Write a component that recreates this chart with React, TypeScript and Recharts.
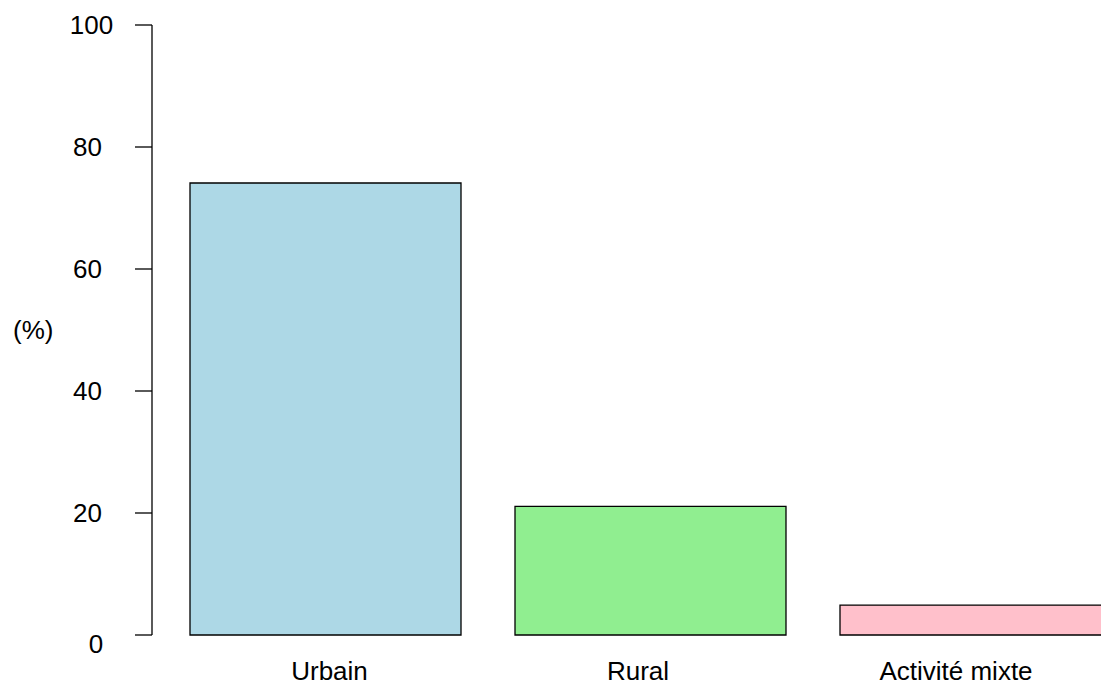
import { BarChart, Bar, XAxis, YAxis, Cell } from "recharts";

const categories = ["Urbain", "Rural", "Activité mixte"];
const percentages = [74.1, 21.1, 4.9];
const yTicks = [0, 20, 40, 60, 80, 100];

const barColors = ["#ADD8E6", "#90EE90", "#FFC0CB"];
// the reference's names sit a little off the bar centres
const labelShift = [4, -12.5, -19.5];

const data = categories.map((name, i) => ({ name, value: percentages[i] }));

const FONT = "'Liberation Sans', Arial, Helvetica, sans-serif";
const FS = 26;

function YTick(props: any) {
  const { x, y, payload } = props;
  // R centres these labels a bit unevenly
  let dx = -47.5;
  let dy = 0;
  if (payload.value === 100) dx = -43.5;
  if (payload.value === 0) {
    dx = -39;
    dy = 9;
  }
  return (
    <text
      x={x + dx}
      y={y + dy}
      textAnchor="middle"
      dominantBaseline="central"
      fontSize={FS}
      fontFamily={FONT}
      fill="#000"
    >
      {payload.value}
    </text>
  );
}

function XTick(props: any) {
  const { x, y, payload, index } = props;
  return (
    <text
      x={x + (labelShift[index] || 0)}
      y={y + 36}
      textAnchor="middle"
      dominantBaseline="central"
      fontSize={FS}
      fontFamily={FONT}
      fill="#000"
    >
      {payload.value}
    </text>
  );
}

export default function App() {
  return (
    <div
      style={{
        position: "absolute",
        left: 0,
        top: 0,
        width: 1101,
        height: 687,
        overflow: "hidden",
        background: "#fff",
        fontFamily: FONT,
      }}
    >
      <BarChart
        width={1140}
        height={687}
        data={data}
        margin={{ top: 25, right: 2, bottom: 0, left: 0 }}
        barCategoryGap={27}
      >
        <XAxis
          dataKey="name"
          height={52}
          axisLine={false}
          tickLine={false}
          tickSize={0}
          tickMargin={0}
          padding={{ left: 11, right: 0 }}
          tick={<XTick />}
          interval={0}
        />
        <YAxis
          width={152}
          domain={[0, 100]}
          ticks={yTicks}
          interval={0}
          axisLine={{ stroke: "#000", strokeWidth: 1.3 }}
          tickLine={{ stroke: "#000", strokeWidth: 1.3 }}
          tickSize={17}
          tickMargin={0}
          tick={<YTick />}
          label={{
            value: "(%)",
            position: "insideLeft",
            offset: 13,
            fontSize: FS,
            fontFamily: FONT,
            fill: "#000",
          }}
        />
        <Bar
          dataKey="value"
          stroke="#000"
          strokeWidth={1.3}
          isAnimationActive={false}
        >
          {data.map((d, i) => (
            <Cell key={d.name} fill={barColors[i]} />
          ))}
        </Bar>
      </BarChart>
    </div>
  );
}
